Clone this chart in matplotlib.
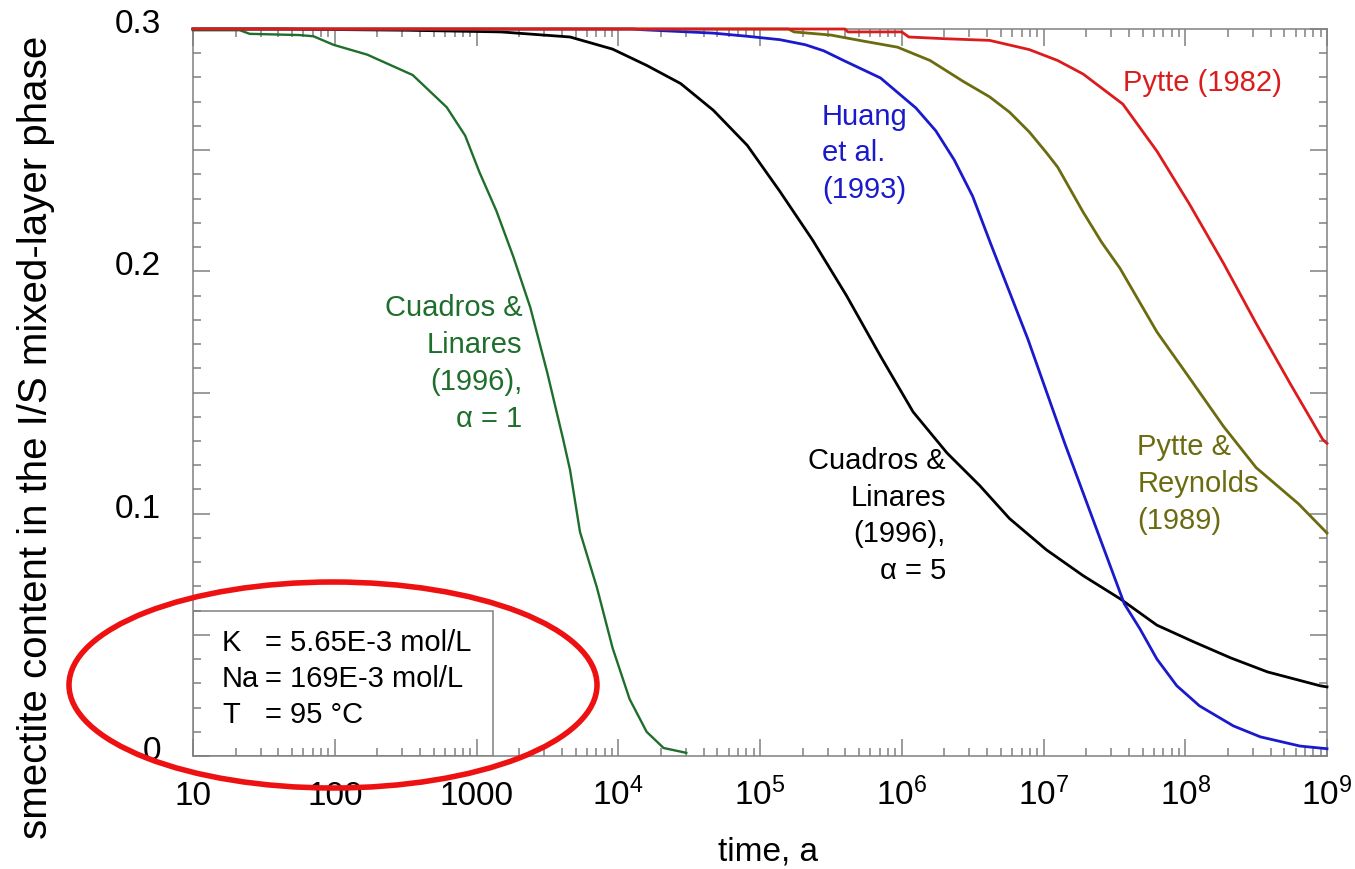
import numpy as np
import matplotlib.pyplot as plt
from matplotlib.ticker import FixedLocator, LogLocator, NullFormatter, MultipleLocator
from matplotlib.patches import Ellipse, Rectangle
from matplotlib.transforms import ScaledTranslation

plt.rcParams['font.family'] = ['Liberation Sans', 'DejaVu Sans']

# curves: log10(time in a) and smectite fraction
cl1_logt = [1.0, 1.33, 1.40, 1.75, 1.85, 1.99, 2.23, 2.39, 2.55, 2.79, 2.92, 3.02, 3.14, 3.26,
            3.38, 3.50, 3.61, 3.66, 3.73, 3.85, 3.96, 4.08, 4.20, 4.32, 4.48]
cl1_s = [0.2995, 0.2995, 0.298, 0.2975, 0.297, 0.2935, 0.2894, 0.2852, 0.281, 0.2677, 0.256,
         0.241, 0.225, 0.206, 0.185, 0.158, 0.131, 0.118, 0.0925, 0.0694, 0.0446, 0.0235,
         0.010, 0.0033, 0.0013]

cl5_logt = [1.0, 1.6, 2.5, 3.17, 3.66, 3.96, 4.2, 4.44, 4.67, 4.91, 5.14, 5.37, 5.61, 5.85,
            6.08, 6.32, 6.55, 6.76, 7.02, 7.28, 7.54, 7.8, 8.06, 8.32, 8.58, 8.95, 9.0]
cl5_s = [0.3, 0.3, 0.2995, 0.2988, 0.2967, 0.2917, 0.285, 0.2775, 0.2665, 0.252, 0.233, 0.213,
         0.19, 0.165, 0.142, 0.125, 0.1116, 0.098, 0.0851, 0.0744, 0.0649, 0.054, 0.0471,
         0.0405, 0.0347, 0.029, 0.0285]

huang_logt = [1.0, 4.1, 4.17, 4.67, 4.91, 5.14, 5.32, 5.45, 5.59, 5.85, 6.1, 6.24, 6.37, 6.5,
              6.63, 6.89, 7.15, 7.41, 7.57, 7.68, 7.8, 7.94, 8.1, 8.34, 8.53, 8.81, 9.0]
huang_s = [0.3, 0.3, 0.2997, 0.2983, 0.297, 0.2956, 0.2935, 0.291, 0.287, 0.2798, 0.2674,
           0.258, 0.246, 0.231, 0.211, 0.172, 0.129, 0.088, 0.0628, 0.0525, 0.040, 0.029,
           0.0207, 0.0124, 0.0079, 0.0041, 0.003]

pr89_logt = [1.0, 5.2, 5.24, 5.5, 5.73, 5.97, 6.2, 6.43, 6.62, 6.76, 6.9, 7.02, 7.1, 7.28,
             7.41, 7.54, 7.8, 8.03, 8.27, 8.5, 8.62, 8.8, 9.0]
pr89_s = [0.3, 0.3, 0.2988, 0.2975, 0.295, 0.2925, 0.287, 0.2785, 0.272, 0.2657, 0.2575,
          0.249, 0.243, 0.2244, 0.212, 0.2012, 0.175, 0.156, 0.136, 0.119, 0.113, 0.104, 0.092]

p82_logt = [1.0, 5.6, 5.62, 6.0, 6.05, 6.3, 6.62, 6.9, 7.1, 7.28, 7.56, 7.8, 8.03, 8.27, 8.5,
            8.74, 8.97, 9.0]
p82_s = [0.3, 0.3, 0.2988, 0.2988, 0.2967, 0.296, 0.2953, 0.2915, 0.287, 0.2814, 0.269,
         0.2496, 0.2277, 0.2033, 0.1785, 0.1537, 0.1306, 0.129]

x_ticks = [1e1, 1e2, 1e3, 1e4, 1e5, 1e6, 1e7, 1e8, 1e9]
x_labels = ['10', '100', '1000', r'$\mathregular{10^4}$', r'$\mathregular{10^5}$',
            r'$\mathregular{10^6}$', r'$\mathregular{10^7}$', r'$\mathregular{10^8}$',
            r'$\mathregular{10^9}$']
y_ticks = [0, 0.05, 0.1, 0.15, 0.2, 0.25, 0.3]
y_labels = ['0', '', '0.1', '', '0.2', '', '0.3']

box_names = ['K', 'Na', 'T']
box_values = ['= 5.65E-3 mol/L', '= 169E-3 mol/L', '= 95 °C']

green = '#1e6e2c'
blue = '#1a1acc'
olive = '#6b6b10'
red = '#dc1c1c'

fig = plt.figure(figsize=(13.55, 8.7), dpi=100)
W, H = 1355, 870
ax = fig.add_axes([193 / W, 1 - 757 / H, (1327 - 193) / W, (757 - 30) / H])

series = [(cl1_logt, cl1_s, green, 1.7), (cl5_logt, cl5_s, 'black', 2.0),
          (huang_logt, huang_s, blue, 2.0), (pr89_logt, pr89_s, olive, 2.0),
          (p82_logt, p82_s, red, 2.0)]
for lt, s, c, lw in series:
    ax.plot(10 ** np.array(lt), s, color=c, lw=lw, zorder=3, clip_on=False)

ax.set_xscale('log')
ax.set_xlim(10, 1e9)
ax.set_ylim(0, 0.3)

ax.xaxis.set_major_locator(FixedLocator(x_ticks))
ax.set_xticklabels(x_labels)
ax.xaxis.set_minor_locator(LogLocator(base=10, subs=np.arange(2, 10), numticks=20))
ax.xaxis.set_minor_formatter(NullFormatter())
ax.set_yticks(y_ticks)
ax.set_yticklabels(y_labels)
ax.yaxis.set_minor_locator(MultipleLocator(0.01))

ax.tick_params(which='both', direction='in', top=True, right=True, color='#808080',
               labelcolor='black', labelsize=24, width=1.1)
ax.tick_params(which='major', length=12.5)
ax.tick_params(which='minor', length=6)
ax.tick_params(axis='x', pad=34.5)
ax.tick_params(axis='y', pad=23)
for lab in ax.get_xticklabels():
    lab.set_va('baseline')
for lab in ax.get_yticklabels():
    lab.set_transform(lab.get_transform() + ScaledTranslation(0, 9 / 100, fig.dpi_scale_trans))
for sp in ax.spines.values():
    sp.set_color('#808080')
    sp.set_linewidth(1.1)

fig.text(36 / W, 1 - 437 / H, 'smectite content in the I/S mixed-layer phase',
         rotation=90, ha='center', va='center', fontsize=29)
fig.text(768 / W, 1 - 852 / H, 'time, a', ha='center', va='center', fontsize=24)

# curve labels
ax.text(2100, 0.191, 'Cuadros &\nLinares\n(1996),\nα = 1', color=green, fontsize=21,
        ha='right', va='top', multialignment='right', linespacing=1.4)
ax.text(2.05e6, 0.128, 'Cuadros &\nLinares\n(1996),\nα = 5', color='black', fontsize=21,
        ha='right', va='top', multialignment='right', linespacing=1.4)
ax.text(2.73e5, 0.270, 'Huang\net al.\n(1993)', color=blue, fontsize=21,
        ha='left', va='top', linespacing=1.4)
ax.text(3.64e7, 0.284, 'Pytte (1982)', color=red, fontsize=21, ha='left', va='top')
ax.text(4.6e7, 0.1335, 'Pytte &\nReynolds\n(1989)', color=olive, fontsize=21,
        ha='left', va='top', linespacing=1.4)

# conditions box
ax.add_patch(Rectangle((0, 0), 300 / 1134, 145 / 727, transform=ax.transAxes,
                       fill=False, edgecolor='#808080', lw=1.1, zorder=4))
for i, (nm, val) in enumerate(zip(box_names, box_values)):
    yy = 1 - (643 + 36 * i) / H
    fig.text(222 / W, yy, nm, fontsize=21, ha='left', va='center')
    fig.text(265 / W, yy, val, fontsize=21, ha='left', va='center')

fig.patches.append(Ellipse((333 / W, 1 - 686 / H), 528 / W, 206 / H, transform=fig.transFigure,
                           fill=False, edgecolor='#ee1111', lw=4, zorder=10))

fig.savefig('out.png', dpi=100)
